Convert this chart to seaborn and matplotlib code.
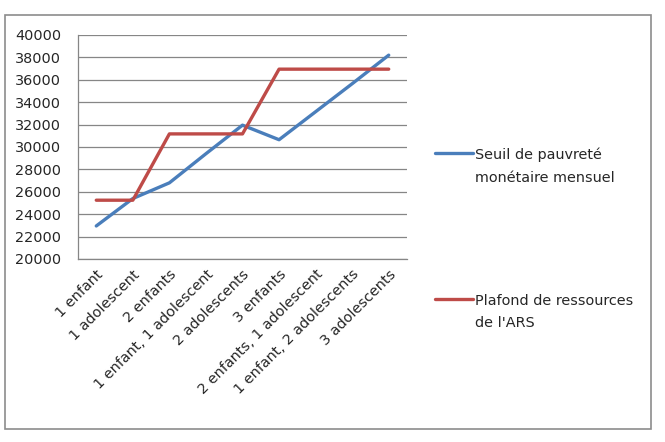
import pandas as pd
import numpy as np
import matplotlib.pyplot as plt
import seaborn as sns
from matplotlib.patches import Rectangle

categories = ["1 enfant", "1 adolescent", "2 enfants", "1 enfant, 1 adolescent",
              "2 adolescents", "3 enfants", "2 enfants, 1 adolescent",
              "1 enfant, 2 adolescents", "3 adolescents"]
seuil = [22950, 25400, 26800, 29400, 31950, 30650, 33150, 35650, 38200]
plafond = [25250, 25250, 31170, 31170, 31170, 36950, 36950, 36950, 36950]
noms = ["Seuil de pauvreté\nmonétaire mensuel", "Plafond de ressources\nde l'ARS"]
couleurs = ["#4A7EBB", "#BE4B48"]
y_ticks = list(range(20000, 40001, 2000))

df = pd.DataFrame({"categorie": categories, noms[0]: seuil, noms[1]: plafond})
df["x"] = np.arange(len(categories))
df = df.melt(id_vars=["categorie", "x"], var_name="serie", value_name="valeur")

sns.set_style("white")
plt.rcParams['font.family'] = ['DejaVu Sans']
fs = 10.4

fig = plt.figure(figsize=(6.65, 4.42), dpi=100)
ax = fig.add_axes([78/665, 1-259/442, 329/665, 224/442])

sns.lineplot(data=df, x="x", y="valeur", hue="serie", palette=couleurs,
             sort=False, linewidth=2.4, ax=ax)

ax.set_xlim(-0.5, len(categories)-0.5)
ax.set_ylim(20000, 40000)
ax.set_yticks(y_ticks)
ax.set_yticklabels([str(v) for v in y_ticks], fontsize=fs)
ax.set_xticks(np.arange(len(categories)))
ax.set_xticklabels(categories, rotation=45, ha="right", rotation_mode="anchor",
                   fontsize=fs)
ax.set_xticks(np.arange(-0.5, len(categories)), minor=True)
ax.tick_params(axis="x", which="major", length=0, pad=6)
ax.tick_params(axis="x", which="minor", length=5, color="#868686", direction="out")
ax.tick_params(axis="y", length=5, color="#868686", direction="out", pad=7)
ax.grid(axis="y", color="#868686", linewidth=0.9)
ax.set_axisbelow(True)
for s in ["top", "right"]:
    ax.spines[s].set_visible(False)
for s in ["left", "bottom"]:
    ax.spines[s].set_color("#868686")
    ax.spines[s].set_linewidth(0.9)
ax.set_xlabel("")
ax.set_ylabel("")

leg = ax.legend(loc="upper left", bbox_to_anchor=(422/665, 1-135/442),
                bbox_transform=fig.transFigure, frameon=False, fontsize=fs,
                labelspacing=7.55, handlelength=2.6, handletextpad=0.2)
for t in leg.get_texts():
    t.set_linespacing(1.75)
# handle aligned with the first line of text, as in Excel
for col in leg._legend_handle_box.get_children():
    for item in col.get_children():
        item.align = "top"

fig.patches.append(Rectangle((5/665, 1-429/442), 646/665, 414/442,
                             transform=fig.transFigure, fill=False,
                             edgecolor="#8c8c8c", linewidth=1.2))

fig.savefig("out.png", dpi=100)
